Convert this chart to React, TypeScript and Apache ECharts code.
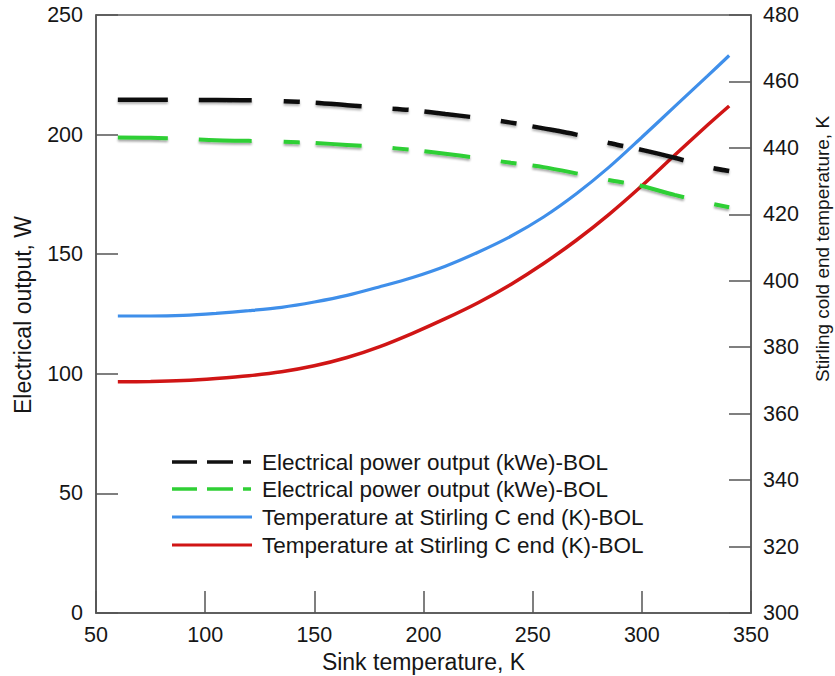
import React, { useEffect, useRef } from "react";
import * as echarts from "echarts";

// Sink temperature (K) sample points
const sinkTemp = [60, 75, 90, 105, 120, 135, 150, 165, 180, 195, 210, 225, 240, 255, 270, 285, 300, 315, 330, 340];
// Electrical output, W (left axis)
const powerBlack = [214.6, 214.6, 214.5, 214.5, 214.4, 214.0, 213.4, 212.3, 211.2, 210.2, 208.6, 207.0, 205.0, 202.6, 200.0, 196.5, 193.6, 190.3, 186.5, 184.8];
const powerGreen = [198.8, 198.7, 198.2, 197.6, 197.4, 197.0, 196.5, 195.7, 194.8, 193.6, 192.0, 190.2, 188.2, 186.4, 183.8, 181.0, 178.5, 174.8, 171.5, 169.6];
// Stirling cold end temperature, K (right axis)
const tempBlue = [389.4, 389.4, 389.6, 390.2, 391.0, 392.0, 393.6, 395.6, 398.2, 401.0, 404.4, 408.6, 413.4, 419.2, 426.2, 434.2, 443.2, 452.4, 461.6, 467.8];
const tempRed = [369.6, 369.7, 370.0, 370.6, 371.4, 372.6, 374.4, 376.9, 380.2, 384.2, 388.6, 393.4, 398.9, 405.2, 412.2, 420.0, 428.6, 437.8, 446.8, 452.6];

const legendLabels = [
  "Electrical power output (kWe)-BOL",
  "Electrical power output (kWe)-BOL",
  "Temperature at Stirling C end (K)-BOL",
  "Temperature at Stirling C end (K)-BOL",
];
const xAxisTitle = "Sink temperature, K";
const leftAxisTitle = "Electrical output, W";
const rightAxisTitle = "Stirling cold end temperature, K";

const FONT = "Liberation Sans, Arial, Helvetica, sans-serif";
const TXT = "#161616";
const AX = "#555555";

const plotDash = [50, 31, 53, 32, 16, 16, 46, 31, 16, 16, 46, 31, 16, 16, 46, 31, 16, 16, 46, 31, 16, 16, 46, 31];
const legendDash = [25, 10, 26, 10, 8, 40];

const colors = ["#111111", "#2fcf35", "#3f8fea", "#d01515"];

export default function App() {
  const ref = useRef<HTMLDivElement>(null);
  useEffect(() => {
    if (!ref.current) return;
    const chart = echarts.init(ref.current, null, { renderer: "svg" });
    const pair = (ys: number[]) => sinkTemp.map((x, i) => [x, ys[i]]);
    const legendRows = [462, 489, 517, 545];
    const legendGraphics: any[] = [];
    legendLabels.forEach((label, i) => {
      legendGraphics.push({
        type: "line",
        shape: { x1: 172, y1: legendRows[i], x2: 252, y2: legendRows[i] },
        style: {
          stroke: colors[i],
          lineWidth: i < 2 ? 3.5 : 3,
          lineDash: i < 2 ? legendDash : null,
        },
        z: 10,
      });
      legendGraphics.push({
        type: "text",
        x: 262,
        y: legendRows[i],
        style: {
          text: label,
          fontSize: 22.5,
          fontFamily: FONT,
          fill: TXT,
          align: "left",
          verticalAlign: "middle",
        },
        z: 10,
      });
    });
    chart.setOption({
      animation: false,
      backgroundColor: "#ffffff",
      grid: {
        left: 96,
        right: 84,
        top: 15,
        bottom: 63,
        show: true,
        borderColor: AX,
        borderWidth: 1.5,
        backgroundColor: "transparent",
      },
      xAxis: {
        type: "value",
        min: 50,
        max: 350,
        interval: 50,
        axisLine: { show: true, lineStyle: { color: AX, width: 1.5 } },
        axisTick: { show: true, inside: true, length: 22, lineStyle: { color: AX, width: 1.5 } },
        axisLabel: { color: TXT, fontSize: 21.5, fontFamily: FONT, margin: 11 },
        splitLine: { show: false },
      },
      yAxis: [
        {
          type: "value",
          min: 0,
          max: 250,
          interval: 50,
          position: "left",
          axisLine: { show: true, lineStyle: { color: AX, width: 1.5 } },
          axisTick: { show: true, inside: true, length: 22, lineStyle: { color: AX, width: 1.5 } },
          axisLabel: { color: TXT, fontSize: 21.5, fontFamily: FONT, margin: 13 },
          splitLine: { show: false },
        },
        {
          type: "value",
          min: 300,
          max: 480,
          interval: 20,
          position: "right",
          axisLine: { show: true, lineStyle: { color: AX, width: 1.5 } },
          axisTick: { show: true, inside: true, length: 22, lineStyle: { color: AX, width: 1.5 } },
          axisLabel: { color: TXT, fontSize: 21.5, fontFamily: FONT, margin: 12 },
          splitLine: { show: false },
        },
      ],
      series: [
        {
          type: "line",
          name: "black",
          yAxisIndex: 0,
          data: pair(powerBlack),
          showSymbol: false,
          smooth: 0.3,
          lineStyle: {
            color: colors[0],
            width: 4.5,
            type: plotDash,
            shadowColor: "rgba(0,0,0,0.3)",
            shadowBlur: 2,
            shadowOffsetY: 2,
          },
          z: 3,
        },
        {
          type: "line",
          name: "green",
          yAxisIndex: 0,
          data: pair(powerGreen),
          showSymbol: false,
          smooth: 0.3,
          lineStyle: {
            color: colors[1],
            width: 4,
            type: plotDash,
            shadowColor: "rgba(0,0,0,0.35)",
            shadowBlur: 2,
            shadowOffsetY: 2,
          },
          z: 3,
        },
        {
          type: "line",
          name: "blue",
          yAxisIndex: 1,
          data: pair(tempBlue),
          showSymbol: false,
          smooth: 0.3,
          lineStyle: { color: colors[2], width: 3.2 },
          z: 2,
        },
        {
          type: "line",
          name: "red",
          yAxisIndex: 1,
          data: pair(tempRed),
          showSymbol: false,
          smooth: 0.3,
          lineStyle: { color: colors[3], width: 3.5 },
          z: 2,
        },
      ],
      graphic: [
        {
          type: "text",
          x: 423.5,
          y: 662,
          style: {
            text: xAxisTitle,
            fontSize: 23,
            fontFamily: FONT,
            fill: TXT,
            align: "center",
            verticalAlign: "middle",
          },
        },
        {
          type: "text",
          x: 22.5,
          y: 315,
          rotation: Math.PI / 2,
          style: {
            text: leftAxisTitle,
            fontSize: 23,
            fontFamily: FONT,
            fill: TXT,
            align: "center",
            verticalAlign: "middle",
          },
        },
        {
          type: "text",
          x: 822,
          y: 249,
          rotation: Math.PI / 2,
          style: {
            text: rightAxisTitle,
            fontSize: 19,
            fontFamily: FONT,
            fill: TXT,
            align: "center",
            verticalAlign: "middle",
          },
        },
        ...legendGraphics,
      ],
    });
    return () => chart.dispose();
  }, []);
  return (
    <div
      ref={ref}
      style={{ position: "fixed", left: 0, top: 0, width: 835, height: 676, background: "#fff" }}
    />
  );
}
